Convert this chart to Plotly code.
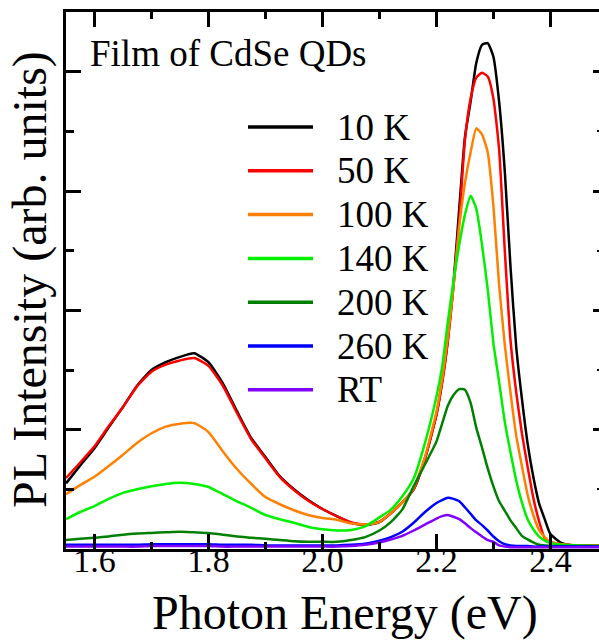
import plotly.graph_objects as go

# ---------------- data ----------------
ENERGY = [1.55, 1.575, 1.6, 1.625, 1.65, 1.675, 1.7, 1.725, 1.75, 1.775, 1.8, 1.825,
          1.85, 1.875, 1.9, 1.925, 1.95, 1.975, 2.0, 2.025, 2.05, 2.075, 2.1,
          2.12, 2.14, 2.16, 2.18,
          2.2, 2.21, 2.22, 2.23, 2.24, 2.25, 2.26, 2.27, 2.28, 2.29, 2.3, 2.31, 2.32,
          2.33, 2.34, 2.35, 2.36, 2.37, 2.38, 2.39, 2.4,
          2.42, 2.45, 2.49]

PL_10K = [1.10, 1.40, 1.69, 2.04, 2.38, 2.74, 3.00, 3.13, 3.22, 3.28, 3.13, 2.78,
          2.31, 1.86, 1.54, 1.22, 1.00, 0.82, 0.67, 0.55, 0.44, 0.40, 0.45,
          0.60, 0.78, 1.00, 1.52,
          2.25, 2.80, 3.50, 4.45, 5.70, 6.90, 7.50, 8.15, 8.45, 8.48, 8.25, 7.50, 6.33,
          4.73, 3.39, 2.52, 1.77, 1.21, 0.77, 0.50, 0.25,
          0.10, 0.05, 0.05]

PL_50K = [1.19, 1.45, 1.72, 2.06, 2.38, 2.73, 2.97, 3.09, 3.16, 3.20, 3.07, 2.74,
          2.28, 1.84, 1.52, 1.21, 0.99, 0.81, 0.67, 0.55, 0.45, 0.41, 0.46,
          0.60, 0.78, 1.00, 1.52,
          2.25, 2.78, 3.48, 4.40, 5.50, 6.85, 7.55, 7.90, 7.98, 7.92, 7.55, 6.70, 5.00,
          3.50, 2.63, 1.94, 1.38, 0.86, 0.47, 0.18, 0.12,
          0.08, 0.06, 0.06]

PL_100K = [0.92, 1.07, 1.21, 1.39, 1.58, 1.78, 1.94, 2.05, 2.10, 2.11, 1.96, 1.64,
           1.34, 1.09, 0.87, 0.75, 0.65, 0.57, 0.52, 0.49, 0.43, 0.41, 0.45,
           0.60, 0.78, 1.02, 1.55,
           2.30, 2.85, 3.55, 4.40, 5.40, 6.13, 6.65, 7.05, 6.95, 6.65, 5.75, 4.43, 3.42,
           2.62, 1.90, 1.39, 0.91, 0.57, 0.32, 0.20, 0.12,
           0.08, 0.06, 0.06]

PL_140K = [0.50, 0.62, 0.72, 0.84, 0.94, 1.00, 1.05, 1.09, 1.11, 1.09, 1.04, 0.92,
           0.80, 0.69, 0.57, 0.50, 0.44, 0.37, 0.33, 0.31, 0.32, 0.38, 0.53,
           0.66, 0.88, 1.18, 1.78,
           2.55, 3.05, 3.80, 4.50, 5.10, 5.60, 5.92, 5.70, 5.10, 4.35, 3.45, 2.80, 2.13,
           1.62, 1.15, 0.78, 0.50, 0.33, 0.21, 0.14, 0.10,
           0.07, 0.06, 0.05]

PL_200K = [0.15, 0.17, 0.19, 0.21, 0.24, 0.26, 0.27, 0.28, 0.29, 0.28, 0.27, 0.24,
           0.21, 0.19, 0.17, 0.15, 0.13, 0.12, 0.12, 0.12, 0.15, 0.20, 0.31,
           0.45, 0.66, 1.05, 1.42,
           1.80, 2.10, 2.40, 2.58, 2.68, 2.67, 2.45, 2.03, 1.70, 1.35, 1.05, 0.80, 0.64,
           0.48, 0.35, 0.22, 0.16, 0.11, 0.07, 0.06, 0.05,
           0.05, 0.05, 0.05]

PL_260K = [0.07, 0.07, 0.07, 0.07, 0.07, 0.07, 0.08, 0.08, 0.08, 0.08, 0.08, 0.07,
           0.07, 0.07, 0.06, 0.06, 0.06, 0.06, 0.06, 0.06, 0.07, 0.09, 0.14,
           0.20, 0.29, 0.44, 0.62,
           0.77, 0.82, 0.86, 0.84, 0.80, 0.70, 0.59, 0.48, 0.40, 0.31, 0.21, 0.13, 0.08,
           0.06, 0.05, 0.05, 0.05, 0.04, 0.04, 0.04, 0.04,
           0.04, 0.04, 0.04]

PL_RT = [0.04, 0.04, 0.04, 0.04, 0.04, 0.04, 0.05, 0.05, 0.05, 0.05, 0.05, 0.04,
         0.04, 0.04, 0.04, 0.04, 0.04, 0.04, 0.04, 0.04, 0.05, 0.07, 0.11,
         0.16, 0.22, 0.31, 0.41,
         0.51, 0.55, 0.57, 0.54, 0.50, 0.43, 0.35, 0.28, 0.21, 0.15, 0.12, 0.06, 0.04,
         0.03, 0.03, 0.03, 0.03, 0.03, 0.03, 0.03, 0.03,
         0.03, 0.03, 0.03]

SERIES_NAMES = ["10 K", "50 K", "100 K", "140 K", "200 K", "260 K", "RT"]
SERIES_COLORS = ["#000000", "#ff0000", "#ff8000", "#00f000", "#008000", "#0000ff", "#8000ff"]
SERIES_VALUES = [PL_10K, PL_50K, PL_100K, PL_140K, PL_200K, PL_260K, PL_RT]

X_TICKS = [1.6, 1.8, 2.0, 2.2, 2.4]
X_TICK_LABELS = ["1.6", "1.8", "2.0", "2.2", "2.4"]

FONT = "Times New Roman"

# ---------------- geometry ----------------
W, H = 599, 642
ML, MR, MT, MB = 66, 0, 12, 93
PW, PH = W - ML - MR, H - MT - MB


def px_x(p):
    return (p - ML) / PW


def px_y(p):
    return (H - MB - p) / PH


fig = go.Figure()

for name, color, vals in zip(SERIES_NAMES, SERIES_COLORS, SERIES_VALUES):
    fig.add_trace(go.Scatter(
        x=ENERGY, y=vals, mode="lines", name=name,
        line=dict(color=color, width=2.5, shape="spline", smoothing=0.5),
        showlegend=False, hoverinfo="skip"))

# helper trace so the right-hand tick axis is drawn
fig.add_trace(go.Scatter(x=[None], y=[None], yaxis="y2", showlegend=False,
                         hoverinfo="skip"))

# ---------------- manual legend ----------------
shapes = []
annotations = []
leg_y0 = 127
leg_dy = 43.8
for i, (name, color) in enumerate(zip(SERIES_NAMES, SERIES_COLORS)):
    yy = px_y(leg_y0 + i * leg_dy)
    shapes.append(dict(type="line", xref="paper", yref="paper",
                       x0=px_x(248), x1=px_x(313), y0=yy, y1=yy,
                       line=dict(color=color, width=3.5)))
    annotations.append(dict(text=name, xref="paper", yref="paper",
                            x=px_x(335), y=yy, xanchor="left", yanchor="middle",
                            showarrow=False,
                            font=dict(family=FONT, size=37, color="black")))

annotations.append(dict(text="Film of CdSe QDs", xref="paper", yref="paper",
                        x=px_x(88), y=px_y(53.5), xanchor="left", yanchor="middle",
                        showarrow=False,
                        font=dict(family=FONT, size=37, color="black")))
annotations.append(dict(text="Photon Energy (eV)", xref="paper", yref="paper",
                        x=px_x(345), y=px_y(613), xanchor="center", yanchor="middle",
                        showarrow=False,
                        font=dict(family=FONT, size=48, color="black")))
annotations.append(dict(text="PL Intensity (arb. units)", xref="paper", yref="paper",
                        x=px_x(30), y=px_y(280), xanchor="center", yanchor="middle",
                        textangle=-90, showarrow=False,
                        font=dict(family=FONT, size=48, color="black")))

fig.update_layout(
    width=W, height=H,
    margin=dict(l=ML, r=MR, t=MT, b=MB, pad=0),
    paper_bgcolor="white", plot_bgcolor="white",
    font=dict(family=FONT, color="black"),
    shapes=shapes, annotations=annotations,
    xaxis=dict(range=[1.55, 2.4853], showgrid=False, zeroline=False,
               showline=True, linecolor="black", linewidth=3, mirror="ticks",
               ticks="inside", ticklen=15, tickwidth=2.5, tickcolor="black",
               tickvals=X_TICKS, ticktext=X_TICK_LABELS,
               tickfont=dict(family=FONT, size=34, color="black"),
               ticklabelstandoff=-21,
               minor=dict(dtick=0.1, tick0=1.6, ticks="inside", ticklen=7,
                          tickwidth=2.5, tickcolor="black", showgrid=False)),
    yaxis=dict(range=[0, 9], showgrid=False, zeroline=False,
               showline=True, linecolor="black", linewidth=3, mirror=False,
               ticks="inside", ticklen=15, tickwidth=2.5, tickcolor="black",
               tick0=0, dtick=2, showticklabels=False,
               minor=dict(dtick=1, tick0=0, ticks="inside", ticklen=8,
                          tickwidth=2.5, tickcolor="black", showgrid=False)),
    yaxis2=dict(range=[0, 9], overlaying="y", side="right", anchor="x",
                showgrid=False, zeroline=False, showline=False,
                ticks="inside", ticklen=6, tickwidth=2.5, tickcolor="black",
                tick0=0, dtick=2, showticklabels=False,
                minor=dict(dtick=1, tick0=0, ticks="inside", ticklen=2,
                           tickwidth=2, tickcolor="black", showgrid=False)),
)

fig.write_html("out.html")
